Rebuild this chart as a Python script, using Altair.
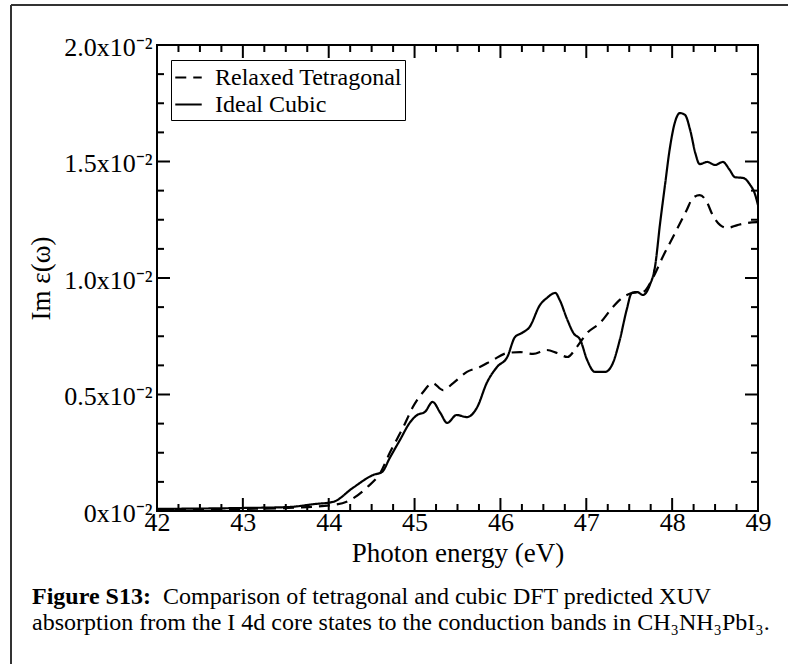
import altair as alt
import pandas as pd

# ---- data (y in units of 1e-2) ----
cubic_x = [42.00, 43.02, 43.53, 43.84, 44.05, 44.28, 44.52, 44.62, 44.71, 44.83, 44.95, 45.03, 45.12,
           45.21, 45.30, 45.38, 45.49, 45.61, 45.73, 45.84, 45.96, 46.08, 46.17, 46.25, 46.34, 46.46,
           46.54, 46.64, 46.69, 46.78, 46.85, 46.93, 47.01, 47.10, 47.22, 47.31, 47.39, 47.47, 47.53,
           47.59, 47.66, 47.74, 47.80, 47.86, 47.92, 47.97, 48.03, 48.09, 48.15, 48.21, 48.27, 48.32,
           48.41, 48.50, 48.59, 48.67, 48.73, 48.83, 48.91, 48.96, 49.00]
cubic_y = [0.009, 0.013, 0.017, 0.030, 0.039, 0.099, 0.155, 0.167, 0.227, 0.305, 0.382, 0.412, 0.425,
           0.468, 0.421, 0.378, 0.412, 0.403, 0.446, 0.549, 0.618, 0.661, 0.747, 0.764, 0.790, 0.884,
           0.914, 0.936, 0.906, 0.820, 0.764, 0.734, 0.648, 0.597, 0.597, 0.635, 0.734, 0.863, 0.936,
           0.940, 0.927, 0.970, 1.047, 1.236, 1.408, 1.549, 1.665, 1.708, 1.700, 1.635, 1.536, 1.489,
           1.498, 1.485, 1.498, 1.464, 1.433, 1.429, 1.399, 1.365, 1.313]

tetra_x = [42.00, 43.02, 43.53, 44.05, 44.25, 44.45, 44.60, 44.71, 44.87, 44.98, 45.10, 45.21, 45.33,
           45.45, 45.61, 45.76, 45.91, 46.08, 46.23, 46.38, 46.54, 46.66, 46.78, 46.89, 47.01, 47.16,
           47.31, 47.43, 47.54, 47.66, 47.78, 47.89, 48.01, 48.17, 48.24, 48.32, 48.41, 48.46, 48.56,
           48.64, 48.76, 48.87, 48.99]
tetra_y = [0.004, 0.009, 0.013, 0.026, 0.047, 0.103, 0.163, 0.249, 0.361, 0.446, 0.511, 0.549, 0.519,
           0.549, 0.597, 0.618, 0.648, 0.678, 0.682, 0.674, 0.691, 0.678, 0.661, 0.704, 0.764, 0.807,
           0.876, 0.918, 0.936, 0.940, 1.004, 1.090, 1.176, 1.292, 1.343, 1.356, 1.322, 1.279, 1.227,
           1.215, 1.227, 1.236, 1.240]

series_names = ["Relaxed Tetragonal", "Ideal Cubic"]

x_major = [42, 43, 44, 45, 46, 47, 48, 49]
x_minor = [42.25, 42.5, 42.75, 43.25, 43.5, 43.75, 44.25, 44.5, 44.75, 45.25, 45.5, 45.75,
           46.25, 46.5, 46.75, 47.25, 47.5, 47.75, 48.25, 48.5, 48.75]
y_major = [0, 0.5, 1.0, 1.5, 2.0]
y_minor = [0.125, 0.25, 0.375, 0.625, 0.75, 0.875, 1.125, 1.25, 1.375, 1.625, 1.75, 1.875]

caption_bold = "Figure S13:"
caption_line1 = "Comparison of tetragonal and cubic DFT predicted XUV"
caption_line2 = "absorption from the I 4d core states to the conduction bands in CH\u2083NH\u2083PbI\u2083."

W, H = 601, 466
FONT = "Liberation Serif"

df = pd.concat([
    pd.DataFrame({"x": tetra_x, "y": tetra_y, "series": series_names[0]}),
    pd.DataFrame({"x": cubic_x, "y": cubic_y, "series": series_names[1]}),
])

xscale = alt.Scale(domain=[42, 49], nice=False, zero=False)
yscale = alt.Scale(domain=[0, 2.0], nice=False, zero=False)

xaxis = alt.Axis(values=x_major, title="Photon energy (eV)", ticks=False, domain=False,
                 grid=False, labelFont=FONT, labelFontSize=26, labelColor="black",
                 labelBaseline="alphabetic", labelPadding=19, labelFlush=False,
                 titleFont=FONT, titleFontSize=27, titleFontWeight="normal",
                 titleColor="black", titleBaseline="alphabetic", titleY=50, titleX=W / 2)
yaxis = alt.Axis(values=y_major, title="Im \u03b5(\u03c9)", ticks=False, domain=False,
                 grid=False, labelFont=FONT, labelFontSize=26, labelColor="black",
                 labelPadding=5, labelBaseline="middle", labelOffset=2, labelFlush=False,
                 labelExpr="(datum.value == 0 ? '0' : format(datum.value, '.1f')) + 'x10\u207b\u00b2'",
                 titleFont=FONT, titleFontSize=27, titleFontWeight="normal",
                 titleColor="black", titleAngle=270, titleBaseline="alphabetic",
                 titleX=-108, titleY=H / 2, titleAlign="center")

lines = alt.Chart(df).mark_line(color="black", strokeWidth=2.2, interpolate="monotone").encode(
    x=alt.X("x:Q", scale=xscale, axis=xaxis),
    y=alt.Y("y:Q", scale=yscale, axis=yaxis),
    strokeDash=alt.StrokeDash("series:N",
                              scale=alt.Scale(domain=series_names, range=[[11, 7], [1, 0]]),
                              legend=alt.Legend(title=None, orient="none", legendX=14, legendY=15,
                                                direction="vertical", symbolType="stroke",
                                                symbolStrokeColor="black", symbolStrokeWidth=2,
                                                symbolSize=700, labelFont=FONT, labelFontSize=24,
                                                labelColor="black", labelOffset=12,
                                                strokeColor="black", fillColor="white",
                                                padding=3, rowPadding=-10, labelLimit=400)),
    order=alt.Order("x:Q"),
)


def ticks_x(vals, length):
    d = pd.DataFrame({"x": vals})
    bottom = alt.Chart(d).mark_rule(color="black", strokeWidth=2).encode(
        x=alt.X("x:Q", scale=xscale, axis=xaxis), y=alt.value(H), y2=alt.value(H - length))
    top = alt.Chart(d).mark_rule(color="black", strokeWidth=2).encode(
        x=alt.X("x:Q", scale=xscale, axis=xaxis), y=alt.value(0), y2=alt.value(length))
    return [bottom, top]


def ticks_y(vals, length):
    d = pd.DataFrame({"y": vals})
    left = alt.Chart(d).mark_rule(color="black", strokeWidth=2).encode(
        y=alt.Y("y:Q", scale=yscale, axis=yaxis), x=alt.value(0), x2=alt.value(length))
    right = alt.Chart(d).mark_rule(color="black", strokeWidth=2).encode(
        y=alt.Y("y:Q", scale=yscale, axis=yaxis), x=alt.value(W), x2=alt.value(W - length))
    return [left, right]


one = pd.DataFrame({"a": [0]})
frame_top = alt.Chart(one).mark_rule(color="#333333", strokeWidth=2).encode(
    x=alt.value(-146), x2=alt.value(W + 30), y=alt.value(-40))
frame_left = alt.Chart(one).mark_rule(color="#333333", strokeWidth=2).encode(
    x=alt.value(-146), y=alt.value(-40), y2=alt.value(H + 153))

cap_bold = alt.Chart(pd.DataFrame({"t": [caption_bold]})).mark_text(
    font=FONT, fontSize=24, fontWeight="bold", align="left", baseline="alphabetic", color="black"
).encode(text="t:N", x=alt.value(-125), y=alt.value(559))
cap1 = alt.Chart(pd.DataFrame({"t": [caption_line1]})).mark_text(
    font=FONT, fontSize=24, align="left", baseline="alphabetic", color="black"
).encode(text="t:N", x=alt.value(6), y=alt.value(559))
cap2 = alt.Chart(pd.DataFrame({"t": [caption_line2]})).mark_text(
    font=FONT, fontSize=24, align="left", baseline="alphabetic", color="black"
).encode(text="t:N", x=alt.value(-125), y=alt.value(585))

layers = [lines] + ticks_x(x_major, 13) + ticks_x(x_minor, 7) + ticks_y(y_major, 13) + \
    ticks_y(y_minor, 7) + [frame_top, frame_left, cap_bold, cap1, cap2]

chart = alt.layer(*layers).properties(
    width=W, height=H,
    autosize=alt.AutoSizeParams(type="none"),
    padding={"left": 157, "top": 45, "right": 30, "bottom": 153},
    background="white",
).configure(font=FONT).configure_view(stroke="black", strokeWidth=2).configure_axis(
    labelFont=FONT, titleFont=FONT).configure_legend(
    labelFont=FONT, labelFontSize=24, labelColor="black")

chart.save("out.html", embed_options={"renderer": "svg", "actions": False})
